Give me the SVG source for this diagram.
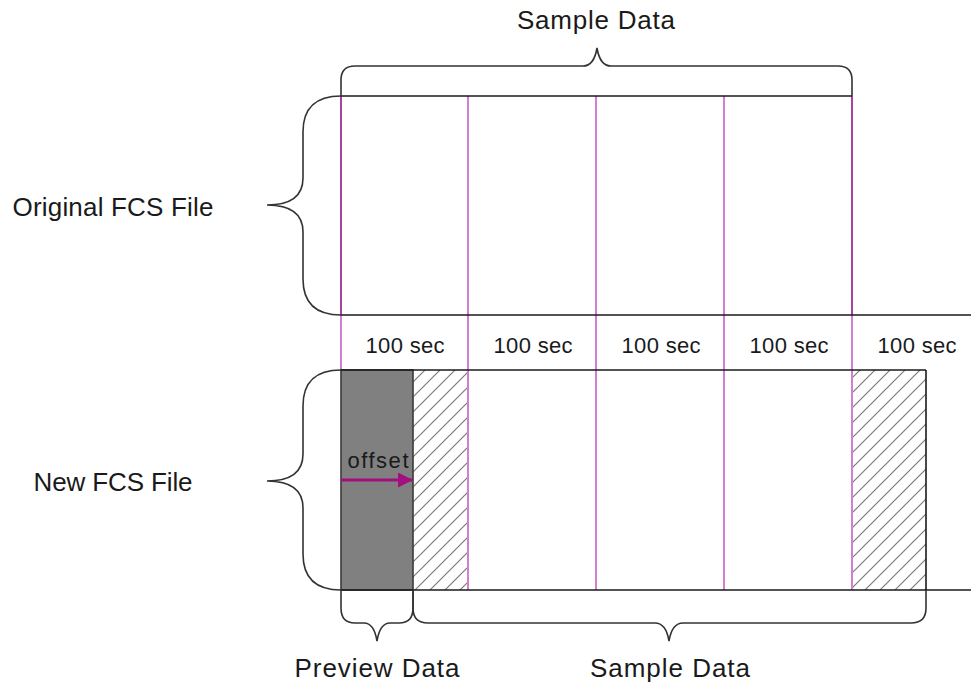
<svg xmlns="http://www.w3.org/2000/svg" width="971" height="687" viewBox="0 0 971 687">
<defs>
<pattern id="hatch" patternUnits="userSpaceOnUse" x="0" y="0" width="15" height="15">
<path d="M0,15 L15,0 M-4,4 L4,-4 M11,19 L19,11" stroke="#7a7a7a" stroke-width="1.2" fill="none"/>
</pattern>
<marker id="arrow" viewBox="0 0 10 10" refX="10" refY="5" markerWidth="5" markerHeight="5" orient="auto" markerUnits="strokeWidth">
<path d="M0,0 L10,5 L0,10 Z" fill="#a0107f"/>
</marker>
</defs>
<style>
text{font-family:"Liberation Sans",Arial,sans-serif;fill:#1a1a1a}
.big{font-size:26px;text-anchor:middle}
.lbl{font-size:22px;text-anchor:middle}
.div{stroke:#d27fd0;stroke-width:2;fill:none}
.divd{stroke:#a8449c;stroke-width:2;fill:none}
.edge{stroke:#1a1a1a;stroke-width:1.6;fill:none}
.brace{stroke:#333;stroke-width:1.6;fill:none}
</style>
<rect width="971" height="687" fill="#ffffff"/>

<g id="original-file">
<line class="div" x1="341" y1="96" x2="341" y2="370"/>
<line class="divd" x1="341" y1="96" x2="341" y2="315"/>
<line class="div" x1="468" y1="96" x2="468" y2="590"/>
<line class="div" x1="596" y1="96" x2="596" y2="590"/>
<line class="div" x1="724" y1="96" x2="724" y2="590"/>
<line class="div" x1="852" y1="96" x2="852" y2="590"/>
<line class="divd" x1="852" y1="96" x2="852" y2="315"/>
<line class="edge" x1="341" y1="96" x2="852" y2="96"/>
<line class="edge" x1="341" y1="315" x2="971" y2="315"/>
</g>

<g id="new-file">
<rect x="413" y="370" width="55" height="220" fill="url(#hatch)"/>
<rect x="852" y="370" width="74" height="220" fill="url(#hatch)"/>
<line class="div" x1="468" y1="370" x2="468" y2="590"/>
<line class="div" x1="852" y1="370" x2="852" y2="590"/>
<rect x="341" y="370" width="72" height="220" fill="#808080" stroke="#3a3a3a" stroke-width="1.6"/>
<line class="edge" x1="341" y1="370" x2="926" y2="370"/>
<line class="edge" x1="926" y1="370" x2="926" y2="590"/>
<line class="edge" x1="341" y1="590" x2="971" y2="590"/>
</g>

<g id="connectors">
<path id="brace-top" class="brace" d="M341,96 L341,80 Q341,66 355,66 L583,66 Q594,66 597,48 Q600,66 611,66 L838,66 Q852,66 852,80 L852,96"/>
<path id="brace-original" class="brace" d="M341,96 Q303,96 303,132 L303,178 Q303,205 267,205 Q303,205 303,232 L303,279 Q303,315 341,315"/>
<path id="brace-new" class="brace" d="M341,370 Q303,370 303,406 L303,454 Q303,481 267,481 Q303,481 303,508 L303,554 Q303,590 341,590"/>
<path id="brace-preview" class="brace" d="M341,590 L341,608 Q341,623 355,623 L364,623 Q374,623 377,641 Q380,623 390,623 L399,623 Q413,623 413,608 L413,590"/>
<path id="brace-sample" class="brace" d="M413,590 L413,608 Q413,623 428,623 L655,623 Q666,623 669,641 Q672,623 683,623 L911,623 Q926,623 926,608 L926,590"/>
<line id="offset-arrow" x1="341" y1="480" x2="413" y2="480" stroke="#a0107f" stroke-width="3" marker-end="url(#arrow)"/>
</g>

<g id="labels">
<text class="big" x="596" y="29" textLength="158">Sample Data</text>
<text class="big" x="113" y="216" textLength="201">Original FCS File</text>
<text class="big" x="113" y="491" textLength="159">New FCS File</text>
<text class="lbl" x="405" y="353" textLength="79">100 sec</text>
<text class="lbl" x="533" y="353" textLength="79">100 sec</text>
<text class="lbl" x="661" y="353" textLength="79">100 sec</text>
<text class="lbl" x="789" y="353" textLength="79">100 sec</text>
<text class="lbl" x="917" y="353" textLength="79">100 sec</text>
<text x="378" y="468" style="font-size:22px;text-anchor:middle" textLength="61">offset</text>
<text class="big" x="377" y="677" textLength="165">Preview Data</text>
<text class="big" x="670" y="677" textLength="160">Sample Data</text>
</g>
</svg>
